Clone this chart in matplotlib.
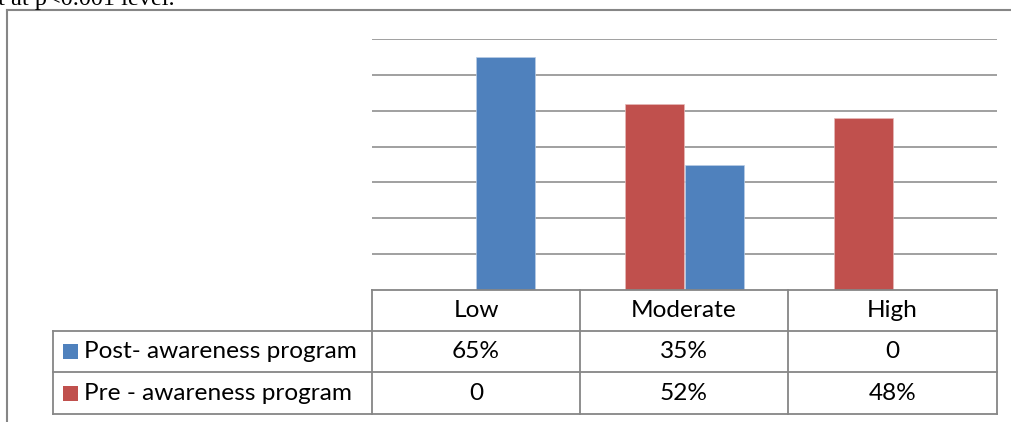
import matplotlib
matplotlib.use("Agg")
import matplotlib.pyplot as plt
from matplotlib.patches import Rectangle
from matplotlib.lines import Line2D

categories = ["Low", "Moderate", "High"]
series_names = ["Post- awareness program", "Pre - awareness program"]
post_values = [65, 35, 0]
pre_values = [0, 52, 48]

BLUE = "#4F81BD"
RED = "#C0504D"
GRID = "#868686"
W, H = 1011, 422
FONT = "Lato"


def fx(x):
    return x / W


def fy(y):
    return 1 - y / H


def main():
    fig = plt.figure(figsize=(W / 100, H / 100), dpi=100)
    fig.patch.set_facecolor("white")

    # plot area (pixel box of the reference)
    left, right, top, bottom = 372, 997, 39, 290
    ax = fig.add_axes([fx(left), fy(bottom), fx(right - left), (bottom - top) / H])
    ax.set_xlim(-0.5, len(categories) - 0.5)
    ax.set_ylim(0, 70)
    ax.set_yticks(range(10, 71, 10))
    ax.yaxis.grid(True, color=GRID, linewidth=1.1)
    ax.set_axisbelow(True)
    ax.tick_params(left=False, bottom=False, labelleft=False, labelbottom=False)
    for s in ax.spines.values():
        s.set_visible(False)

    w = 0.284
    xs = list(range(len(categories)))
    ax.bar([x - w / 2 for x in xs], pre_values, w, color=RED, edgecolor="#E6B9B8", linewidth=0.5)
    ax.bar([x + w / 2 for x in xs], post_values, w, color=BLUE, edgecolor="#B9CDE5", linewidth=0.5)

    # data table below the plot
    col_x = [372, 580, 788, 997]
    row_y = [290, 331, 372, 414]
    label_left = 53
    lw = 1.3

    def hline(x0, x1, y):
        fig.add_artist(Line2D([fx(x0), fx(x1)], [fy(y), fy(y)], color=GRID, lw=lw))

    def vline(x, y0, y1):
        fig.add_artist(Line2D([fx(x), fx(x)], [fy(y0), fy(y1)], color=GRID, lw=lw))

    hline(col_x[0], col_x[-1], row_y[0])
    for y in row_y[1:]:
        hline(label_left, col_x[-1], y)
    for x in col_x:
        vline(x, row_y[0], row_y[-1])
    vline(label_left, row_y[1], row_y[-1])

    fs = 17.6
    for i, c in enumerate(categories):
        cx = (col_x[i] + col_x[i + 1]) / 2
        fig.text(fx(cx), fy((row_y[0] + row_y[1]) / 2), c, ha="center", va="center",
                 fontsize=fs, family=FONT)

    rows = [(series_names[0], post_values, BLUE), (series_names[1], pre_values, RED)]
    for r, (name, vals, col) in enumerate(rows):
        yc = (row_y[r + 1] + row_y[r + 2]) / 2
        fig.add_artist(Rectangle((fx(63), fy(yc + 7.5)), fx(15), 15 / H,
                                 facecolor=col, edgecolor="none", transform=fig.transFigure))
        fig.text(fx(84), fy(yc), name, ha="left", va="center", fontsize=fs, family=FONT)
        for i, v in enumerate(vals):
            cx = (col_x[i] + col_x[i + 1]) / 2
            txt = f"{v}%" if v else "0"
            fig.text(fx(cx), fy(yc), txt, ha="center", va="center", fontsize=fs, family=FONT)

    # chart frame (left and top edges visible)
    fig.add_artist(Line2D([fx(7), fx(7)], [fy(10), fy(H + 5)], color=GRID, lw=1.5))
    fig.add_artist(Line2D([fx(7), fx(W + 5)], [fy(10), fy(10)], color=GRID, lw=1.5))

    # cut-off caption text above the chart, as in the reference
    fig.text(fx(-2), fy(5), "t at p<0.001 level.", ha="left", va="baseline",
             fontsize=17.5, family="Liberation Serif")

    fig.savefig("out.png", dpi=100)


if __name__ == "__main__":
    main()
